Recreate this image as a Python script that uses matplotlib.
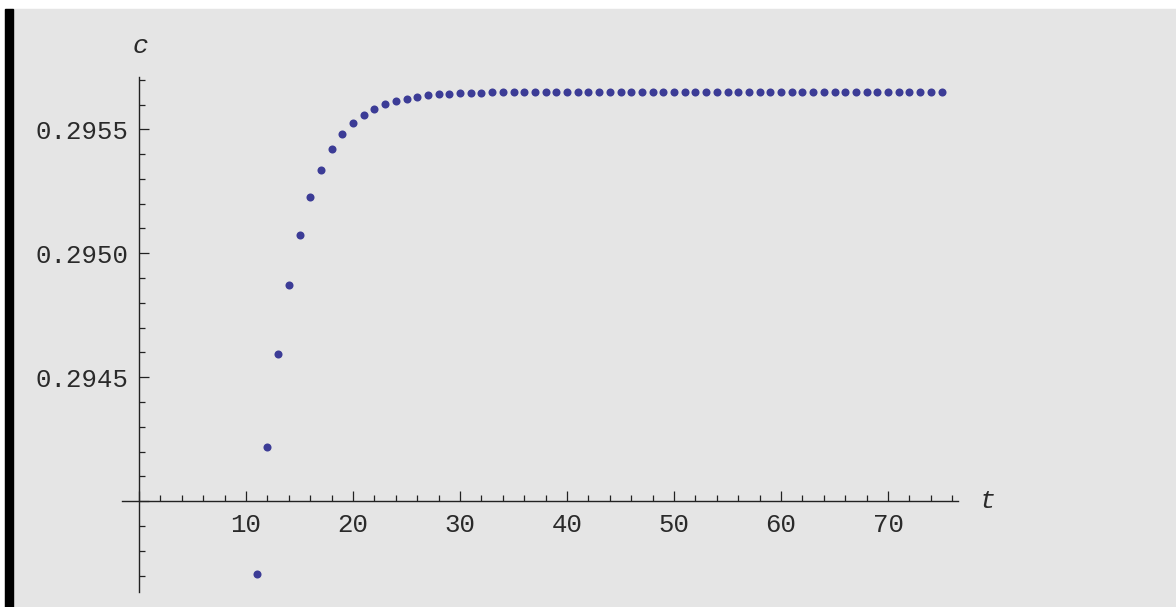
import numpy as np
import matplotlib
matplotlib.use('Agg')
import matplotlib.pyplot as plt
from matplotlib.ticker import MultipleLocator

# time steps and the value of c
t = np.arange(11, 76)
c = [0.293707, 0.294219, 0.294594, 0.294871, 0.295075, 0.295226, 0.295337,
     0.295419, 0.295480, 0.295525, 0.295559, 0.295582, 0.295601, 0.295614,
     0.295623, 0.295631, 0.295637, 0.295641, 0.295644, 0.295645, 0.295648,
     0.295648, 0.295649, 0.295649, 0.295652, 0.295652, 0.295652, 0.295652,
     0.295652, 0.295652, 0.295652, 0.295652, 0.295652, 0.295652, 0.295652,
     0.295652, 0.295652, 0.295652, 0.295652, 0.295652, 0.295652, 0.295652,
     0.295652, 0.295652, 0.295652, 0.295652, 0.295652, 0.295652, 0.295652,
     0.295652, 0.295652, 0.295652, 0.295652, 0.295652, 0.295652, 0.295652,
     0.295652, 0.295652, 0.295652, 0.295652, 0.295652, 0.295652, 0.295652,
     0.295652, 0.295652]

x_major = [0, 10, 20, 30, 40, 50, 60, 70]
x_labels = ['', '10', '20', '30', '40', '50', '60', '70']
y_major = [0.2940, 0.2945, 0.2950, 0.2955]
y_labels = ['', '0.2945', '0.2950', '0.2955']

W, H = 1176, 607
fig = plt.figure(figsize=(W / 100, H / 100), dpi=100)
# grey panel with the black bar on its left edge
fig.patches.append(plt.Rectangle((5 / W, 0), 1, (H - 9) / H, transform=fig.transFigure,
                                 color='#e5e5e5', zorder=-2))
fig.patches.append(plt.Rectangle((5 / W, 0), 8 / W, (H - 9) / H, transform=fig.transFigure,
                                 color='black', zorder=-1))

ax = fig.add_axes([122 / W, (H - 592) / H, 836 / W, 515 / H])
ax.set_zorder(1)
ax.patch.set_visible(False)
ax.plot(t, c, 'o', color='#3c3c96', markersize=5.8, markeredgewidth=0, clip_on=False)

ax.set_xlim(-1.589, 76.54)
ax.set_ylim(0.293634, 0.295711)
for s in ['top', 'right']:
    ax.spines[s].set_visible(False)
ax.spines['left'].set_position(('data', 0))
ax.spines['bottom'].set_position(('data', 0.2940))
for s in ['left', 'bottom']:
    ax.spines[s].set_color('#222222')
    ax.spines[s].set_linewidth(1.0)

ax.set_xticks(x_major)
ax.set_xticklabels(x_labels)
ax.set_yticks(y_major)
ax.set_yticklabels(y_labels)
ax.xaxis.set_minor_locator(MultipleLocator(2))
ax.yaxis.set_minor_locator(MultipleLocator(0.0001))
ax.tick_params(which='both', direction='in', color='#222222', width=0.9)
ax.tick_params(which='major', length=7.2)
ax.tick_params(which='minor', length=4.3)
ax.tick_params(axis='x', pad=8.5)
ax.tick_params(axis='y', pad=7.5)
for lab in ax.get_xticklabels() + ax.get_yticklabels():
    lab.set_fontfamily('Liberation Mono')
    lab.set_fontsize(18.5)
    lab.set_color('#2a2a2a')

fig.text(140 / W, 1 - 46 / H, 'c', family='Liberation Mono', style='italic', fontsize=19,
         ha='center', va='center', color='#2a2a2a')
fig.text(987 / W, 1 - 501 / H, 't', family='Liberation Mono', style='italic', fontsize=19,
         ha='center', va='center', color='#2a2a2a')

fig.savefig('out.png', dpi=100)
